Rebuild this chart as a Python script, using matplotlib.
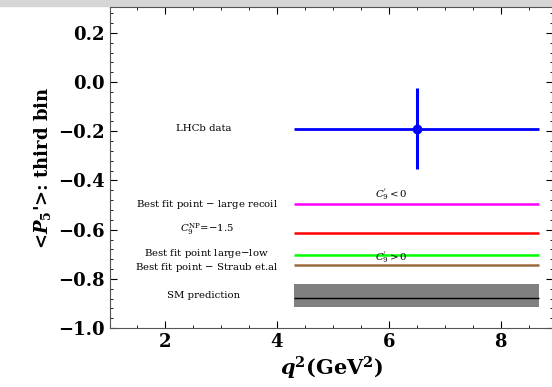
import numpy as np
import matplotlib.pyplot as plt
from matplotlib.ticker import MultipleLocator
from matplotlib.patches import Rectangle

plt.rcParams['font.family'] = ['DejaVu Serif']
plt.rcParams['mathtext.fontset'] = 'dejavuserif'

# third q^2 bin
q2_lo, q2_hi = 4.3, 8.68

# LHCb measurement
lhcb_q2 = 6.5
lhcb_p5 = -0.19
lhcb_err = 0.165

# predictions for <P5'> in the bin
pred_names = ['Best fit point $-$ large recoil', '$C_9^{\\rm NP}$=$-$1.5',
              'Best fit point large$-$low', 'Best fit point $-$ Straub et.al']
pred_values = [-0.495, -0.615, -0.703, -0.745]
pred_colors = ['#ff00ff', '#ff0000', '#00ff00', '#9a6a3a']
pred_label_y = [-0.497, -0.600, -0.697, -0.752]

# SM prediction with its band
sm_value = -0.879
sm_lo, sm_hi = -0.915, -0.822

fig = plt.figure(figsize=(5.52, 3.87), dpi=100)
ax = fig.add_axes([0.199, 0.152, 0.8025, 0.83])

# faint strip along the top edge
fig.patches.append(Rectangle((0, 0.985), 1, 0.015, transform=fig.transFigure,
                             color='#d6d6d6', zorder=-1))

ax.fill_between([q2_lo, q2_hi], sm_lo, sm_hi, color='#808080', lw=0)
ax.hlines(sm_value, q2_lo, q2_hi, color='black', lw=1.0)
for v, c in zip(pred_values, pred_colors):
    ax.hlines(v, q2_lo, q2_hi, color=c, lw=1.8)

ax.hlines(lhcb_p5, q2_lo, q2_hi, color='#0000ff', lw=2.0)
ax.errorbar(lhcb_q2, lhcb_p5, yerr=lhcb_err, fmt='o', color='#0000ff',
            ms=6, elinewidth=2.2, capsize=0)

txt = dict(fontsize=7.3, ha='center', va='center')
ax.text(2.7, lhcb_p5, 'LHCb data', **txt)
for name, y in zip(pred_names, pred_label_y):
    ax.text(2.75, y, name, **txt)
ax.text(2.7, -0.866, 'SM prediction', **txt)
ax.text(6.05, -0.455, "$C_9^{'}<0$", **txt)
ax.text(6.05, -0.713, "$C_9^{'}>0$", fontsize=7.3, ha='center', va='center',
        fontweight='bold')

ax.set_xlim(1.02, 8.93)
ax.set_ylim(-1.0, 0.305)
ax.xaxis.set_major_locator(MultipleLocator(2))
ax.xaxis.set_minor_locator(MultipleLocator(0.5))
ax.yaxis.set_major_locator(MultipleLocator(0.2))
ax.yaxis.set_minor_locator(MultipleLocator(0.04))
ax.tick_params(which='both', direction='in', top=True, right=True)
ax.tick_params(which='major', length=5, labelsize=13)
ax.tick_params(which='minor', length=2.5)
for lab in ax.get_xticklabels() + ax.get_yticklabels():
    lab.set_fontweight('bold')
for s in ax.spines.values():
    s.set_color('#555555')

ax.set_xlabel('$\\boldsymbol{q}^\\mathbf{2}$(GeV$^\\mathbf{2}$)', fontsize=15,
              fontweight='bold', labelpad=3)
ax.set_ylabel("<$\\boldsymbol{P}_\\mathbf{5}$'>: third bin", fontsize=13,
              fontweight='bold', labelpad=4)

fig.savefig('out.png')
